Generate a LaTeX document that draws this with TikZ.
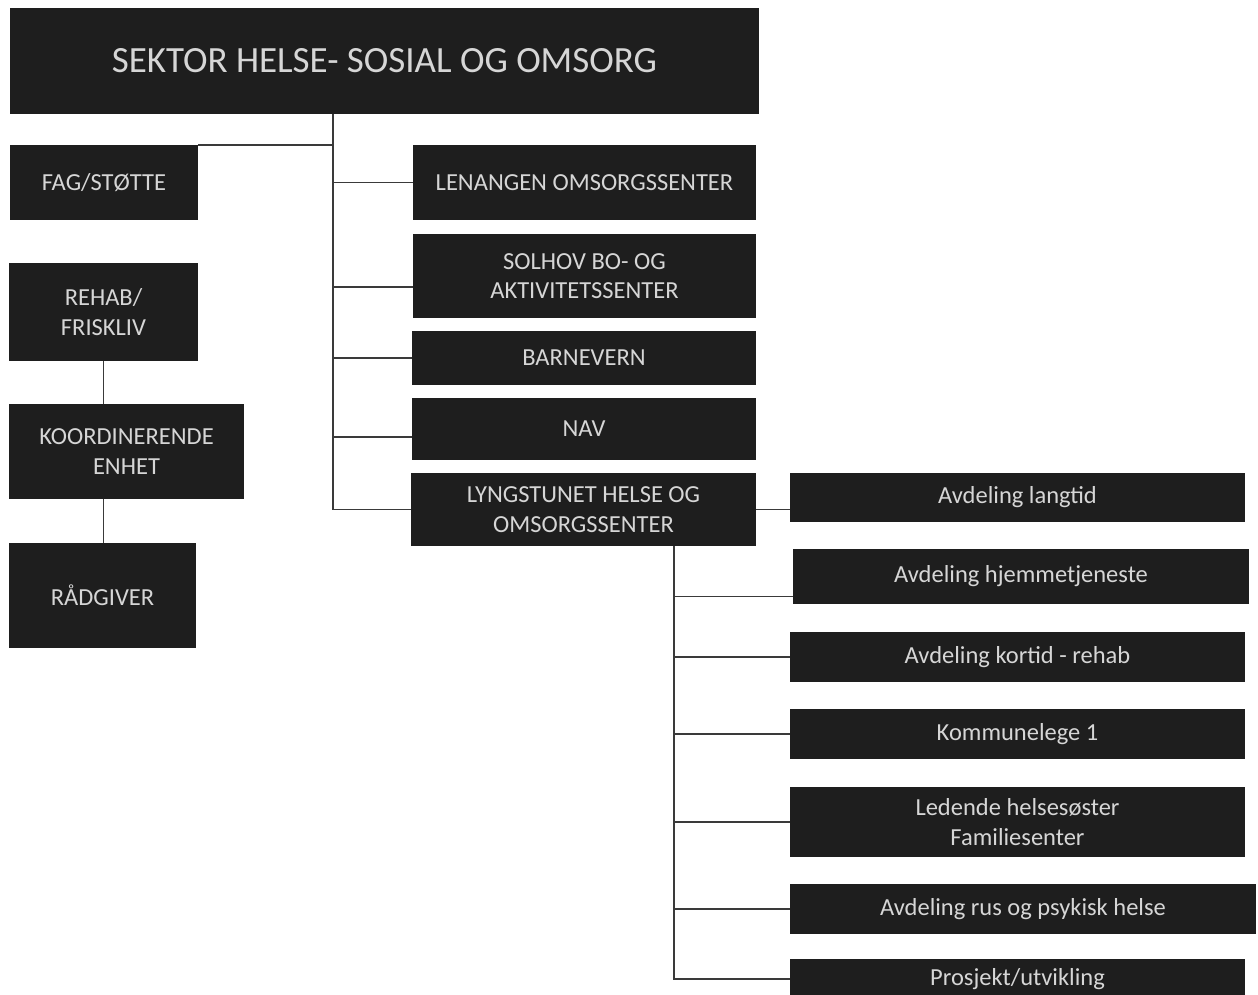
\documentclass[tikz,border=0pt]{standalone}
\usepackage{fontspec}
\setmainfont{Carlito}
\definecolor{boxc}{HTML}{1E1E1E}
\definecolor{txtc}{HTML}{D6D6D6}
\definecolor{linec}{HTML}{3A3A3A}
\tikzset{
  orgbox/.style={fill=boxc, draw=none, text=txtc, align=center, inner sep=0pt,
    font=\fontsize{24.5}{29.5}\selectfont},
  link/.style={draw=linec, line width=1.5pt},
}
\begin{document}
\begin{tikzpicture}[x=1pt,y=-1pt]
\useasboundingbox (0,0) rectangle (1258,995);
\fill[white] (0,0) rectangle (1258,995);
% top
\node[orgbox, minimum width=749, minimum height=106, font=\fontsize{37}{42}\selectfont] (top) at (384.5,61) {SEKTOR HELSE- SOSIAL OG OMSORG};
% left column
\node[orgbox, minimum width=188, minimum height=75] (fag) at (104,182.5) {FAG/STØTTE};
\node[orgbox, minimum width=189, minimum height=98] (rehab) at (103.5,312) {REHAB/\\FRISKLIV};
\node[orgbox, minimum width=235, minimum height=95] (koord) at (126.5,451.5) {KOORDINERENDE\\ENHET};
\node[orgbox, minimum width=187, minimum height=105] (radg) at (102.5,595.5) {RÅDGIVER};
% middle column
\node[orgbox, minimum width=343, minimum height=75] (len) at (584.5,182.5) {LENANGEN OMSORGSSENTER};
\node[orgbox, minimum width=343, minimum height=84] (sol) at (584.5,276) {SOLHOV BO- OG\\AKTIVITETSSENTER};
\node[orgbox, minimum width=344, minimum height=54] (barn) at (584,358) {BARNEVERN};
\node[orgbox, minimum width=344, minimum height=62] (nav) at (584,429) {NAV};
\node[orgbox, minimum width=345, minimum height=73] (lyng) at (583.5,509.5) {LYNGSTUNET HELSE OG\\OMSORGSSENTER};
% right column
\node[orgbox, minimum width=455, minimum height=49] (lang) at (1017.5,497.5) {Avdeling langtid};
\node[orgbox, minimum width=456, minimum height=55] (hjem) at (1021,576.5) {Avdeling hjemmetjeneste};
\node[orgbox, minimum width=455, minimum height=50] (kort) at (1017.5,657) {Avdeling kortid - rehab};
\node[orgbox, minimum width=455, minimum height=50] (komm) at (1017.5,734) {Kommunelege 1};
\node[orgbox, minimum width=455, minimum height=70] (led) at (1017.5,822) {Ledende helsesøster\\Familiesenter};
\node[orgbox, minimum width=466, minimum height=50] (rus) at (1023,909) {Avdeling rus og psykisk helse};
\node[orgbox, minimum width=455, minimum height=40] (pros) at (1017.5,979) {Prosjekt/utvikling};
% connectors
\coordinate (bus) at (333,114);
\coordinate (bus2) at (674,546);
\coordinate (solin) at ([yshift=-11pt]sol.west);
\coordinate (navin) at ([yshift=-8pt]nav.west);
\coordinate (hjemin) at ([yshift=-20pt]hjem.west);
\draw[link] (top.south -| bus) -- (bus |- lyng.west) -- (lyng.west);
\draw[link] (fag.north east) -- (bus |- fag.north east);
\draw[link] (bus |- len.west) -- (len.west);
\draw[link] (bus |- solin) -- (solin);
\draw[link] (bus |- barn.west) -- (barn.west);
\draw[link] (bus |- navin) -- (navin);
\draw[link] (rehab.south) -- (rehab.south |- koord.north);
\draw[link] (rehab.south |- koord.south) -- (rehab.south |- radg.north);
\draw[link] (lyng.east) -- (lyng.east -| lang.west);
\draw[link] (lyng.south -| bus2) -- (bus2 |- pros.west) -- (pros.west);
\draw[link] (bus2 |- hjemin) -- (hjemin);
\draw[link] (bus2 |- kort.west) -- (kort.west);
\draw[link] (bus2 |- komm.west) -- (komm.west);
\draw[link] (bus2 |- led.west) -- (led.west);
\draw[link] (bus2 |- rus.west) -- (rus.west);
\end{tikzpicture}
\end{document}
